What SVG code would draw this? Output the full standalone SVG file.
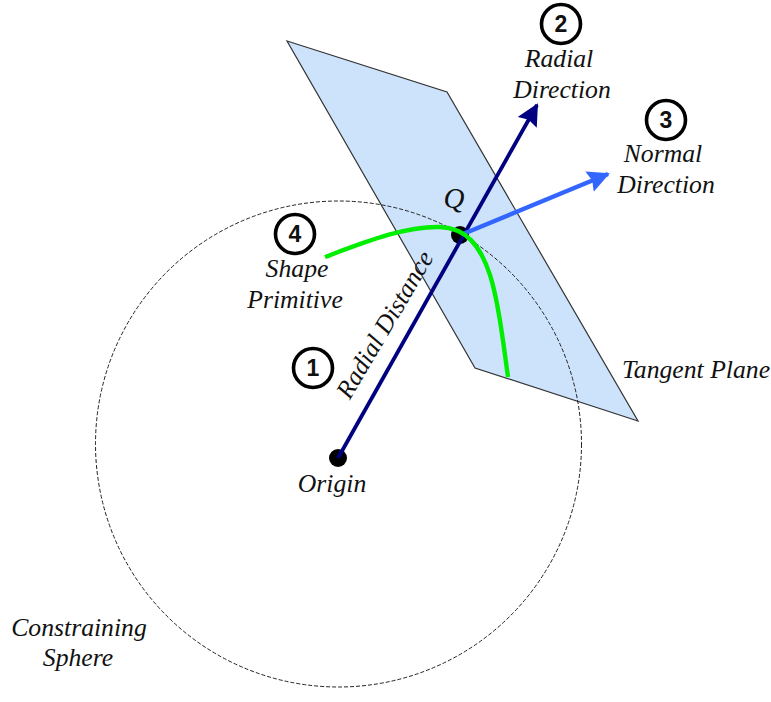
<svg xmlns="http://www.w3.org/2000/svg" width="771" height="702" viewBox="0 0 771 702">
<style>
text{font-family:"Liberation Serif","Times New Roman",serif;font-size:25.7px;font-style:italic;fill:#111;text-anchor:middle}
.num{font-family:"Liberation Sans",Arial,sans-serif;font-style:normal;font-weight:bold;font-size:23px;fill:#111}
.badge{fill:#fff;stroke:#000;stroke-width:3.6}
.dot{fill:#000}
</style>
<defs>
<marker id="navyHead" markerUnits="userSpaceOnUse" markerWidth="26" markerHeight="24" refX="20" refY="11" orient="auto"><path d="M0 0L22 11L0 22L3 11Z" fill="#000080"/></marker>
<marker id="blueHead" markerUnits="userSpaceOnUse" markerWidth="26" markerHeight="24" refX="20" refY="11" orient="auto"><path d="M0 0L22 11L0 22L3 11Z" fill="#3366ff"/></marker>
</defs>
<g id="plane"><polygon points="287,41 447,92 638,421 475,368" fill="#cde2fb" stroke="#333" stroke-width="1.2"/></g>
<g id="sphere"><circle cx="338.5" cy="444" r="243" fill="none" stroke="#222" stroke-width="1" stroke-dasharray="4 2"/></g>
<g id="origin"><circle class="dot" cx="338" cy="458" r="9"/></g>
<g id="point-q"><circle class="dot" cx="460" cy="235" r="9"/></g>
<g id="connectors" fill="none">
<path d="M338 458L537 105" stroke="#000080" stroke-width="3.8" marker-end="url(#navyHead)"/>
<path d="M463 234L608 174" stroke="#3366ff" stroke-width="4.4" marker-end="url(#blueHead)"/>
<path d="M325 257C365 242 405 226 440 227C466 228 480 245 490 275C498 300 503 340 508 377" stroke="#00ee00" stroke-width="4.4"/>
</g>
<g id="badge-1"><circle class="badge" cx="313" cy="368" r="19.5"/><text class="num" x="313" y="376">1</text></g>
<g id="badge-2"><circle class="badge" cx="561" cy="24" r="19.5"/><text class="num" x="561" y="32">2</text></g>
<g id="badge-3"><circle class="badge" cx="666" cy="120" r="19.5"/><text class="num" x="666" y="128">3</text></g>
<g id="badge-4"><circle class="badge" cx="295" cy="234" r="19.5"/><text class="num" x="295" y="242">4</text></g>
<g id="labels">
<text x="559" y="67">Radial</text>
<text x="562" y="98">Direction</text>
<text x="663" y="162">Normal</text>
<text x="666" y="193">Direction</text>
<text x="454" y="208" style="font-size:29px">Q</text>
<text x="297" y="277">Shape</text>
<text x="295" y="308">Primitive</text>
<text x="696" y="378">Tangent Plane</text>
<text x="332" y="492">Origin</text>
<text x="79" y="636">Constraining</text>
<text x="78" y="666">Sphere</text>
<text transform="translate(392 329) rotate(-59.5)">Radial Distance</text>
</g>
</svg>
